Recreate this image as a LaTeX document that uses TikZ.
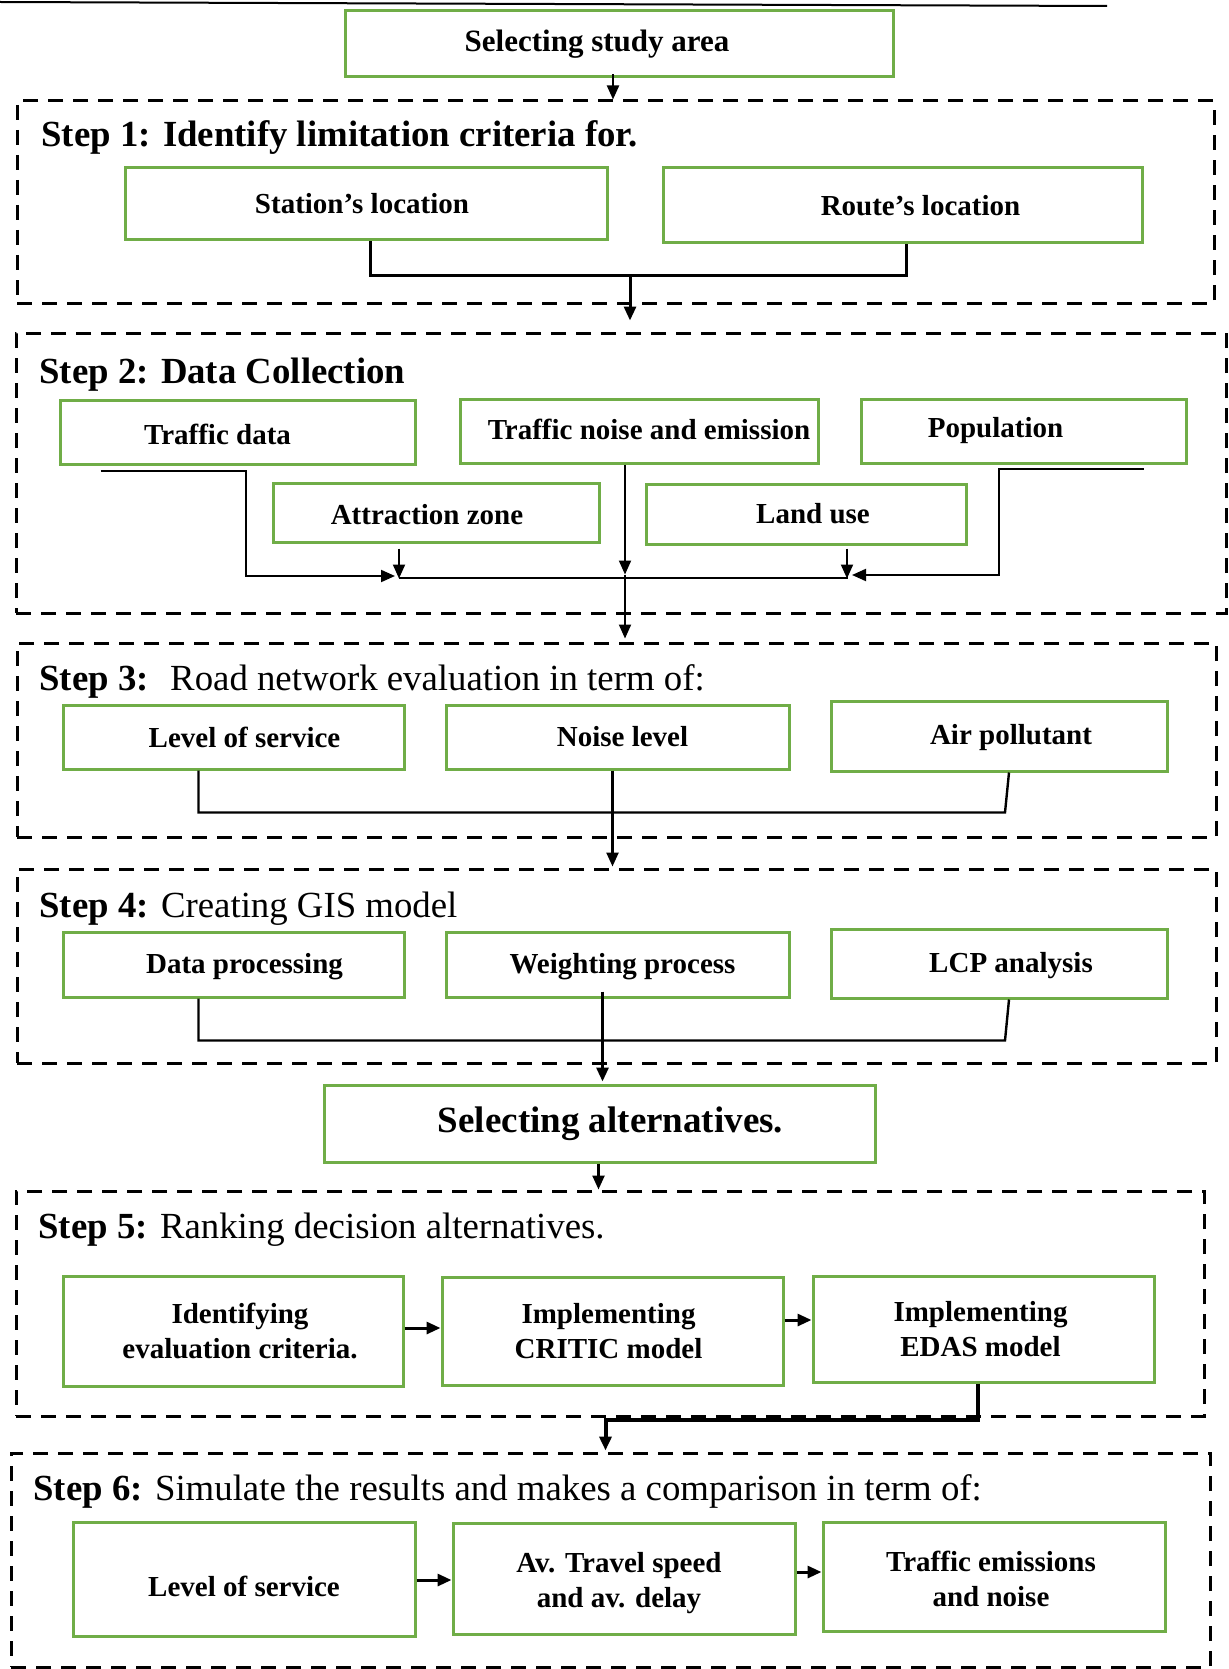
\documentclass[tikz,border=0pt]{standalone}
\usepackage{fontspec}
\setmainfont{Liberation Serif}
\usetikzlibrary{arrows.meta,fit,calc}
\definecolor{boxgreen}{RGB}{112,173,71}
\begin{document}
\begin{tikzpicture}[x=0.5pt,y=-0.5pt,
  gbox/.style={draw=boxgreen,line width=1.5pt,inner sep=0pt},
  boxlab/.style={inner sep=0pt,align=center,font=\bfseries\fontsize{14.5}{17.5}\selectfont},
  stepbox/.style={draw=black,line width=1.5pt,dash pattern=on 7.5pt off 5pt,inner sep=0pt},
  steptitle/.style={anchor=base west,inner sep=0pt,font=\fontsize{18.4}{22}\selectfont},
  conn/.style={draw=black,line width=1pt},
  arr/.style={conn,-{Triangle[length=7pt,width=6pt]}},
  wh/.style 2 args={minimum width=#1pt,minimum height=#2pt},
]
\useasboundingbox (0,0) rectangle (1228,1669);
\draw[line width=1pt] (0,2) -- (1107,6);

% top
\node[gbox,wh={274}{33},label={[boxlab,font=\bfseries\fontsize{15.5}{18}\selectfont,xshift=-11pt]center:Selecting study area}] (top) at (619,44) {};

% Step 1
\node[stepbox,fit={(17,101) (1214,303)}] (s1) {};
\node[steptitle,font=\bfseries\fontsize{18.4}{22}\selectfont] (t1) at (41,147) {Step 1: Identify limitation criteria for.};
\node[gbox,wh={241}{36},label={[boxlab,xshift=-2pt]center:Station’s location}] (st) at (366,204) {};
\node[gbox,wh={239.5}{37.5},label={[boxlab,xshift=9pt]center:Route’s location}] (ro) at (902.5,205.5) {};
\draw[arr] ($(top.south)+(-6,-4)$) -- ($(s1.north -| top.south)+(-6,0)$);
\coordinate (j1) at (630,275);
\draw[conn,line width=1.5pt] ($(st.south)+(4,0)$) |- (j1) -| ($(ro.south)+(4,0)$);

% Step 2
\node[stepbox,fit={(16,333) (1226,613)}] (s2) {};
\draw[arr,line width=1.5pt] (j1) -- ($(j1 |- s2.north)+(0,-11)$);
\node[steptitle,font=\bfseries\fontsize{18.4}{22}\selectfont] (t2) at (39,383) {Step 2: Data Collection};
\node[gbox,wh={177.5}{32},label={[boxlab,xshift=-10pt,yshift=-1pt]center:Traffic data}] (td) at (237.5,432) {};
\node[gbox,wh={179}{32},label={[boxlab,xshift=5pt,yshift=1pt]center:Traffic noise and emission}] (tn) at (639,431) {};
\node[gbox,wh={162.5}{32},label={[boxlab,xshift=-14pt]center:Population}] (po) at (1023.5,431) {};
\node[gbox,wh={163}{29.5},label={[boxlab,xshift=-4.5pt,yshift=-1pt]center:Attraction zone}] (az) at (436,512.5) {};
\node[gbox,wh={160}{30},label={[boxlab,xshift=3.5pt]center:Land use}] (lu) at (806,514) {};
\coordinate (m1) at (395,576);
\coordinate (m2) at (852,575);
\draw[arr] ($(td.south west)+(42,5)$) -- ++(145,0) |- (m1);
\draw[arr] ($(az.south)+(-37,5)$) -- ++(0,30);
\draw[conn] ($(az.south)+(-37,34)$) -- ($(lu.south)+(42,32)$);
\draw[arr] ($(lu.south)+(41,3)$) -- ++(0,30);
\draw[arr] ($(po.south east)+(-44,4)$) -- ++(-145,0) |- (m2);
\draw[arr] ($(tn.south)+(-14,0)$) -- ++(0,110);

% Step 3
\node[stepbox,fit={(17,643) (1216,837)}] (s3) {};
\draw[arr] ($(tn.south)+(-14,110)$) -- ($(tn.south |- s3.north)+(-14,-3)$);
\node[steptitle] (t3) at (39,690) {\textbf{Step 3:}~ Road network evaluation in term of:};
\node[gbox,wh={170.5}{32},label={[boxlab,xshift=5.5pt]center:Level of service}] (ls) at (233.5,737) {};
\node[gbox,wh={171.5}{32},label={[boxlab,xshift=2.5pt]center:Noise level}] (nl) at (617.5,737) {};
\node[gbox,wh={168}{35},label={[boxlab,xshift=6pt,yshift=-1pt]center:Air pollutant}] (ap) at (999,736) {};
\draw[conn,line width=1.2pt] ($(ls.south)+(-35,0)$) -- ++(0,42) -- ($(ap.south)+(6,40)$) -- ($(ap.south)+(10,0)$);

% Step 4
\node[stepbox,fit={(17,869) (1216,1063)}] (s4) {};
\draw[arr,line width=1.2pt] ($(nl.south)+(-5,0)$) -- ($(nl.south |- s4.north)+(-5,-1)$);
\node[steptitle] (t4) at (39,917) {\textbf{Step 4:} Creating GIS model};
\node[gbox,wh={170.5}{32.5},label={[boxlab,xshift=5.5pt,yshift=-1pt]center:Data processing}] (dp) at (233.5,964.5) {};
\node[gbox,wh={171.5}{32.5},label={[boxlab,xshift=2.5pt,yshift=-1pt]center:Weighting process}] (wp) at (617.5,964.5) {};
\node[gbox,wh={168}{34.5},label={[boxlab,xshift=6pt,yshift=-1pt]center:LCP analysis}] (lcp) at (999,963.5) {};
\draw[conn,line width=1.2pt] ($(dp.south)+(-35,0)$) -- ++(0,42) -- ($(lcp.south)+(6,41)$) -- ($(lcp.south)+(10,0)$);

% Selecting alternatives
\node[gbox,wh={275.5}{38.5},label={[boxlab,font=\bfseries\fontsize{18.5}{22}\selectfont,xshift=5.5pt]center:Selecting alternatives.}] (sa) at (599.5,1123.5) {};
\draw[arr,line width=1.5pt] ($(wp.south)+(-15,-7)$) -- ($(wp.south |- sa.north)+(-15,-2)$);

% Step 5
\node[stepbox,fit={(16,1191) (1204,1416)}] (s5) {};
\draw[arr,line width=1.2pt] ($(sa.south)+(-1,0)$) -- ($(sa.south |- s5.north)+(-1,0)$);
\node[steptitle] (t5) at (38,1238) {\textbf{Step 5:} Ranking decision alternatives.};
\node[gbox,wh={170}{55},label={[boxlab,xshift=3.5pt]center:{Identifying\\evaluation criteria.}}] (ie) at (233,1331) {};
\node[gbox,wh={170.5}{54},label={[boxlab,xshift=-2pt]center:{Implementing\\CRITIC model}}] (cr) at (612.5,1331) {};
\node[gbox,wh={170.5}{53},label={[boxlab,xshift=-1.5pt]center:{Implementing\\EDAS model}}] (ed) at (983.5,1329) {};
\draw[arr,line width=1.5pt] ($(ie.east)+(0,-3)$) -- ($(cr.west)+(0,-3)$);
\draw[arr,line width=1.5pt] ($(cr.east)+(0,-11)$) -- ($(ed.west)+(0,-9)$);

% Step 6
\node[stepbox,fit={(11,1453) (1210,1667)}] (s6) {};
\draw[arr,line width=2pt] ($(ed.south)+(-6,0)$) -- ++(0,36) -| ($(s6.north)+(-5,-1)$);
\node[steptitle] (t6) at (33,1500) {\textbf{Step 6:} Simulate the results and makes a comparison in term of:};
\node[gbox,wh={171}{57},label={[boxlab,yshift=-3.75pt]center:Level of service}] (l6) at (244,1579) {};
\node[gbox,wh={171}{55.5},label={[boxlab,xshift=-2.5pt,yshift=-2.5pt]center:{Av. Travel speed\\and av. delay}}] (av) at (624,1578.5) {};
\node[gbox,wh={171}{54.5},label={[boxlab,xshift=-1.5pt,yshift=-1pt]center:{Traffic emissions\\and noise}}] (te) at (994,1576.5) {};
\draw[arr,line width=1.5pt] ($(l6.east)+(0,1)$) -- ($(av.west)+(0,1.5)$);
\draw[arr,line width=1.5pt] ($(av.east)+(0,-6.5)$) -- ($(te.west)+(0,-4.5)$);
\end{tikzpicture}
\end{document}
